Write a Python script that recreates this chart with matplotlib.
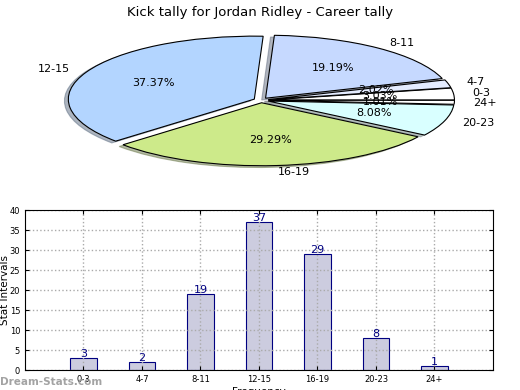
import matplotlib
matplotlib.use("Agg")
import matplotlib.pyplot as plt

# data
categories = ["0-3", "4-7", "8-11", "12-15", "16-19", "20-23", "24+"]
counts = [3, 2, 19, 37, 29, 8, 1]
pie_colors = ["#ffffff", "#e4ecff", "#c6d9ff", "#b3d5ff", "#cdea8a", "#d9ffff", "#ffffff"]
yticks = [0, 5, 10, 15, 20, 25, 30, 35, 40]

fig = plt.figure(figsize=(5.2, 3.9), dpi=100)
fig.suptitle("Kick tally for Jordan Ridley - Career tally", fontsize=9.5, y=0.985)

# ── pie (squashed) ──────────────────────────────────────────────
ax1 = fig.add_axes([0.037, 0.533, 0.93, 0.42])
ax1.pie(counts, labels=categories, colors=pie_colors, autopct="%1.2f%%",
        explode=[0.04] * len(counts),
        shadow={"ox": -0.015, "oy": -0.02, "shade": 0.5}, startangle=0,
        wedgeprops=dict(edgecolor="black", linewidth=0.8),
        textprops=dict(fontsize=8))
ax1.set_aspect("auto")
ax1.set_xlim(-1.3, 1.3)
ax1.set_ylim(-1.3, 1.3)

# ── bar chart ───────────────────────────────────────────────────
ax2 = fig.add_axes([0.048, 0.051, 0.9, 0.41])
xpos = list(range(1, len(categories) + 1))
ax2.bar(xpos, counts, width=0.45, color="#ccccdf", edgecolor="#000080", linewidth=0.8)
for x, v in zip(xpos, counts):
    ax2.text(x, v - 0.3, str(v), ha="center", va="bottom", fontsize=8, color="#000080")

ax2.set_xlim(0, 8)
ax2.set_ylim(0, 40)
ax2.set_xticks(xpos)
ax2.set_xticklabels(categories)
ax2.set_yticks(yticks)
ax2.tick_params(labelsize=6, direction="in", top=True, right=True, length=3)
ax2.grid(True, linestyle=":", color="#aaaaaa", linewidth=1)
ax2.set_ylabel("Stat Intervals", fontsize=7.5)
ax2.yaxis.set_label_coords(-0.031, 0.5)
ax2.set_xlabel("Frequency", fontsize=7.5, labelpad=2)

fig.text(0.0, 0.013, "Dream-Stats.com", fontsize=7.5, color="#999999",
         fontweight="bold", alpha=0.9)

fig.savefig("out.png", dpi=100)
